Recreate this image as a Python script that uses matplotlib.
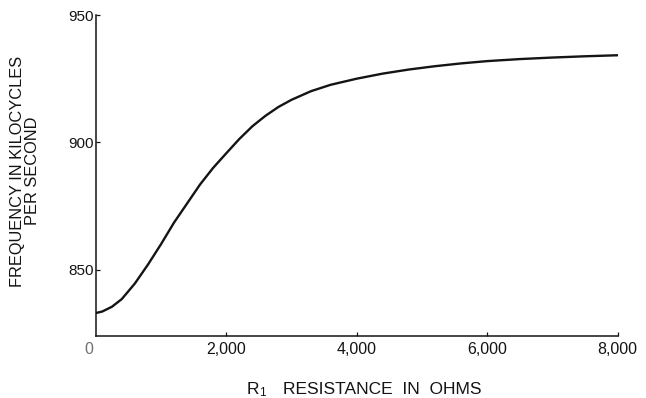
import matplotlib
matplotlib.use("Agg")
import matplotlib.pyplot as plt
from matplotlib.transforms import ScaledTranslation

plt.rcParams['font.family'] = ['Liberation Sans', 'DejaVu Sans']

# Oscillator frequency versus resistance R1
resistance_ohms = [0, 100, 250, 400, 600, 800, 1000, 1200, 1400, 1600, 1800,
                   2000, 2200, 2400, 2600, 2800, 3000, 3300, 3600, 4000, 4400,
                   4800, 5200, 5600, 6000, 6500, 7000, 7500, 8000]
frequency_kc = [833.0, 833.6, 835.5, 838.5, 844.6, 852.0, 860.0, 868.5, 876.0, 883.5, 890.0,
                895.7, 901.3, 906.3, 910.4, 913.9, 916.7, 920.1, 922.6, 925.0, 927.0,
                928.6, 929.9, 931.0, 931.9, 932.7, 933.3, 933.8, 934.2]

x_ticks = [0, 2000, 4000, 6000, 8000]
x_tick_labels = ["0", "2,000", "4,000", "6,000", "8,000"]
y_ticks = [850, 900, 950]
y_tick_labels = ["850", "900", "950"]

W, H = 646, 398
fig = plt.figure(figsize=(W / 100, H / 100), dpi=100)
fig.patch.set_facecolor("white")

left, right, top, bottom = 95.7, 617.7, 15, 336
ax = fig.add_axes([left / W, 1 - bottom / H, (right - left) / W, (bottom - top) / H])

ink = "#141414"
ax.plot(resistance_ohms, frequency_kc, color=ink, lw=1.7,
        solid_capstyle="round", solid_joinstyle="round")

ax.set_xlim(0, 8000)
ax.set_ylim(824, 950)

for s in ("top", "right"):
    ax.spines[s].set_visible(False)
for s in ("left", "bottom"):
    ax.spines[s].set_color(ink)
    ax.spines[s].set_linewidth(1.1)

ax.set_xticks(x_ticks)
ax.set_xticklabels(x_tick_labels)
ax.set_yticks(y_ticks)
ax.set_yticklabels(y_tick_labels)
ax.tick_params(axis="x", direction="in", length=3, width=0.9, color=ink,
               labelsize=11.5, pad=4, labelcolor=ink)
ax.tick_params(axis="y", direction="in", length=3, width=0.9, color=ink,
               labelsize=11, pad=1.5, labelcolor=ink)

# the origin label sits left of the corner, in a lighter tone
xlabels = ax.get_xticklabels()
xlabels[0].set_color("#707070")
xlabels[0].set_transform(xlabels[0].get_transform()
                         + ScaledTranslation(-7 / 100, 0, fig.dpi_scale_trans))
ax.xaxis.get_major_ticks()[0].tick1line.set_visible(False)

# axis titles
fig.text(25 / W, 1 - 171 / H, "FREQUENCY IN KILOCYCLES\nPER SECOND",
         rotation=90, ha="center", va="center", multialignment="center",
         fontsize=11.8, linespacing=0.95, color=ink)

base_y = 1 - 394 / H
fig.text(246.5 / W, base_y, "R", fontsize=12.5, ha="left", va="baseline", color=ink)
fig.text(259 / W, 1 - 396 / H, "1", fontsize=8.5, ha="left", va="baseline", color=ink)
fig.text(283 / W, base_y, "RESISTANCE  IN  OHMS", fontsize=12.5, ha="left",
         va="baseline", color=ink, fontweight="medium")

fig.savefig("out.png", dpi=100, facecolor="white")
